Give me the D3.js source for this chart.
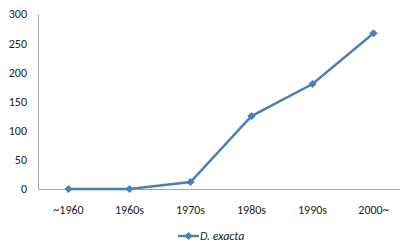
<!DOCTYPE html>
<html><head><meta charset="utf-8">
<script src="https://cdn.jsdelivr.net/npm/d3@7"></script>
<style>body{margin:0;background:#fff}svg{display:block}</style>
</head><body>
<script>
const categories = ["~1960","1960s","1970s","1980s","1990s","2000~"];
const values = [0, 0, 12, 125, 180, 267];
const yTicks = [0, 50, 100, 150, 200, 250, 300];
const seriesName = "D. exacta";

const W = 400, H = 249;
const svg = d3.select("body").append("svg").attr("width", W).attr("height", H);
const font = "Carlito, Calibri, 'Open Sans', sans-serif";
const fs = 12, tc = "#1e1e1e";
const x = d3.scaleBand().domain(categories).range([38, 404]);
const y = d3.scaleLinear().domain([0, 300]).range([189, 14]);

const gy = svg.append("g").attr("transform", "translate(38,0)")
  .call(d3.axisLeft(y).tickValues(yTicks).tickSize(0).tickPadding(11));
gy.select(".domain").attr("stroke", "#a6a6a6");
gy.selectAll("text").attr("font-family", font).attr("font-size", fs).attr("fill", tc);

const gx = svg.append("g").attr("transform", "translate(0,189)")
  .call(d3.axisBottom(x).tickSize(0).tickPadding(16));
gx.select(".domain").attr("stroke", "#a6a6a6");
gx.selectAll("text").attr("font-family", font).attr("font-size", fs).attr("fill", tc);

const color = "#4a7ebb";
const line = d3.line().x((d, i) => x(categories[i]) + x.bandwidth() / 2).y(d => y(d));
svg.append("path").datum(values).attr("d", line).attr("fill", "none")
  .attr("stroke", color).attr("stroke-width", 2.4);
const diamond = d3.symbol().type(d3.symbolSquare).size(34);
svg.selectAll(".pt").data(values).join("path")
  .attr("d", diamond)
  .attr("transform", (d, i) => `translate(${x(categories[i]) + x.bandwidth() / 2},${y(d)}) rotate(45)`)
  .attr("fill", color);

const lg = svg.append("g").attr("transform", "translate(178,236)");
lg.append("line").attr("x1", 0).attr("x2", 21).attr("stroke", color).attr("stroke-width", 2.4);
lg.append("path").attr("d", diamond).attr("transform", "translate(10.5,0) rotate(45)").attr("fill", color);
lg.append("text").attr("x", 22).attr("dy", "0.35em").attr("font-family", font)
  .attr("font-size", fs).attr("font-style", "italic").attr("fill", tc).text(seriesName);
</script>
</body></html>
